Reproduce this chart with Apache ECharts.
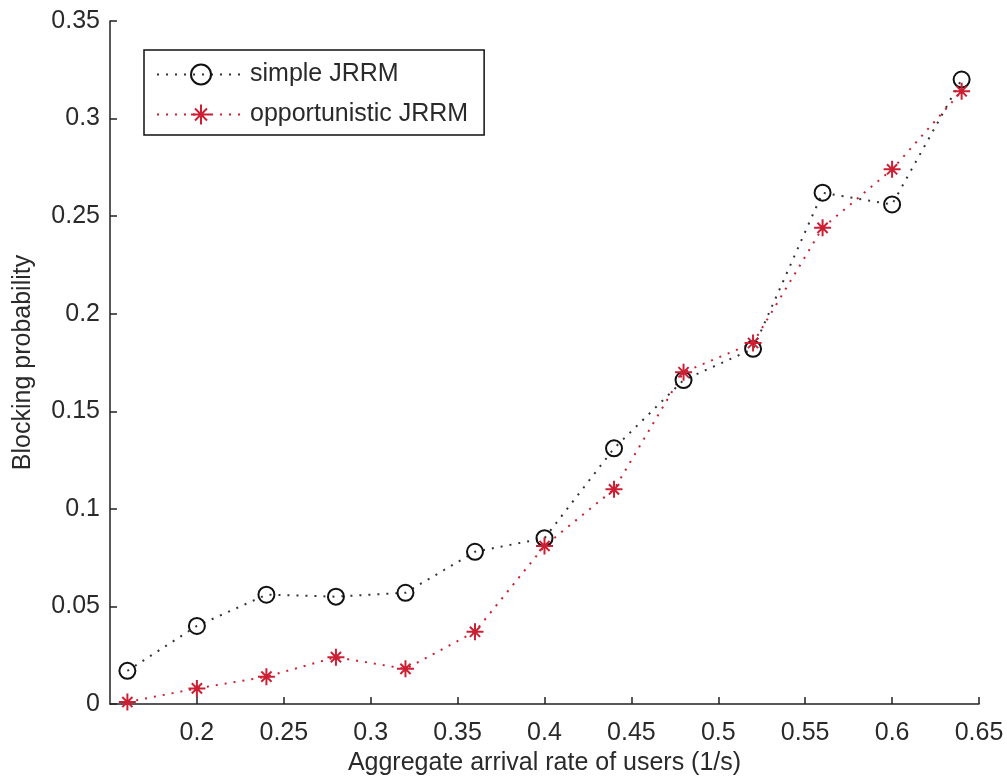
<!DOCTYPE html>
<html>
<head>
<meta charset="utf-8">
<script src="https://cdn.jsdelivr.net/npm/echarts@6/dist/echarts.min.js"></script>
<style>
html,body{margin:0;padding:0;background:#fff;}
#chart{width:1007px;height:778px;}
</style>
</head>
<body>
<div id="chart"></div>
<script>
var xValues = [0.16, 0.20, 0.24, 0.28, 0.32, 0.36, 0.40, 0.44, 0.48, 0.52, 0.56, 0.60, 0.64];
var simpleJRRM = [0.017, 0.040, 0.056, 0.055, 0.057, 0.078, 0.085, 0.131, 0.166, 0.182, 0.262, 0.256, 0.320];
var opportunisticJRRM = [0.001, 0.008, 0.014, 0.024, 0.018, 0.037, 0.081, 0.110, 0.170, 0.185, 0.244, 0.274, 0.314];
var seriesNames = ['simple JRRM', 'opportunistic JRRM'];

function pairs(xs, ys) { return xs.map(function (x, i) { return [x, ys[i]]; }); }

var FONT = '"Liberation Sans", Arial, sans-serif';
var TXT = '#2a2a2a';
var RED = '#cc1f33';
var star = 'path://M10,0L10,20M0,10L20,10M4,4L16,16M4,16L16,4';

var chart = echarts.init(document.getElementById('chart'));
chart.setOption({
  animation: false,
  backgroundColor: '#fff',
  grid: { left: 110, right: 28, top: 21, bottom: 74, containLabel: false, outerBoundsMode: 'none' },
  legend: {
    left: 144, top: 50, orient: 'vertical',
    padding: [12, 16, 8, 12],
    itemWidth: 88, itemHeight: 25, itemGap: 15,
    borderColor: '#111', borderWidth: 1.5, backgroundColor: '#fff',
    textStyle: { fontFamily: FONT, fontSize: 25, color: TXT },
    data: seriesNames
  },
  xAxis: {
    type: 'value', min: 0.15, max: 0.65, interval: 0.05,
    name: 'Aggregate arrival rate of users (1/s)', nameLocation: 'middle', nameGap: 47,
    nameTextStyle: { fontFamily: FONT, fontSize: 25, color: TXT },
    axisLine: { onZero: false, lineStyle: { color: '#222', width: 1.5 } },
    axisTick: { inside: true, length: 7, lineStyle: { color: '#222', width: 1.5 } },
    axisLabel: { showMinLabel: false, margin: 17, fontFamily: FONT, fontSize: 25, color: TXT },
    splitLine: { show: false }
  },
  yAxis: {
    type: 'value', min: 0, max: 0.35, interval: 0.05,
    name: 'Blocking probability', nameLocation: 'middle', nameGap: 74,
    nameTextStyle: { fontFamily: FONT, fontSize: 25, color: TXT },
    axisLine: { show: true, lineStyle: { color: '#222', width: 1.5 } },
    axisTick: { show: true, inside: true, length: 7, lineStyle: { color: '#222', width: 1.5 } },
    axisLabel: { margin: 10, fontFamily: FONT, fontSize: 25, color: TXT },
    splitLine: { show: false }
  },
  series: [
    {
      name: seriesNames[0], type: 'line', data: pairs(xValues, simpleJRRM),
      symbol: 'circle', symbolSize: 16,
      itemStyle: { color: 'rgba(0,0,0,0)', borderColor: '#111', borderWidth: 2 },
      lineStyle: { color: '#333', width: 2, type: [2, 7] }
    },
    {
      name: seriesNames[1], type: 'line', data: pairs(xValues, opportunisticJRRM),
      symbol: star, symbolSize: 17,
      itemStyle: { color: 'rgba(0,0,0,0)', borderColor: RED, borderWidth: 2 },
      lineStyle: { color: RED, width: 2, type: [2, 7] }
    }
  ]
});
</script>
</body>
</html>
